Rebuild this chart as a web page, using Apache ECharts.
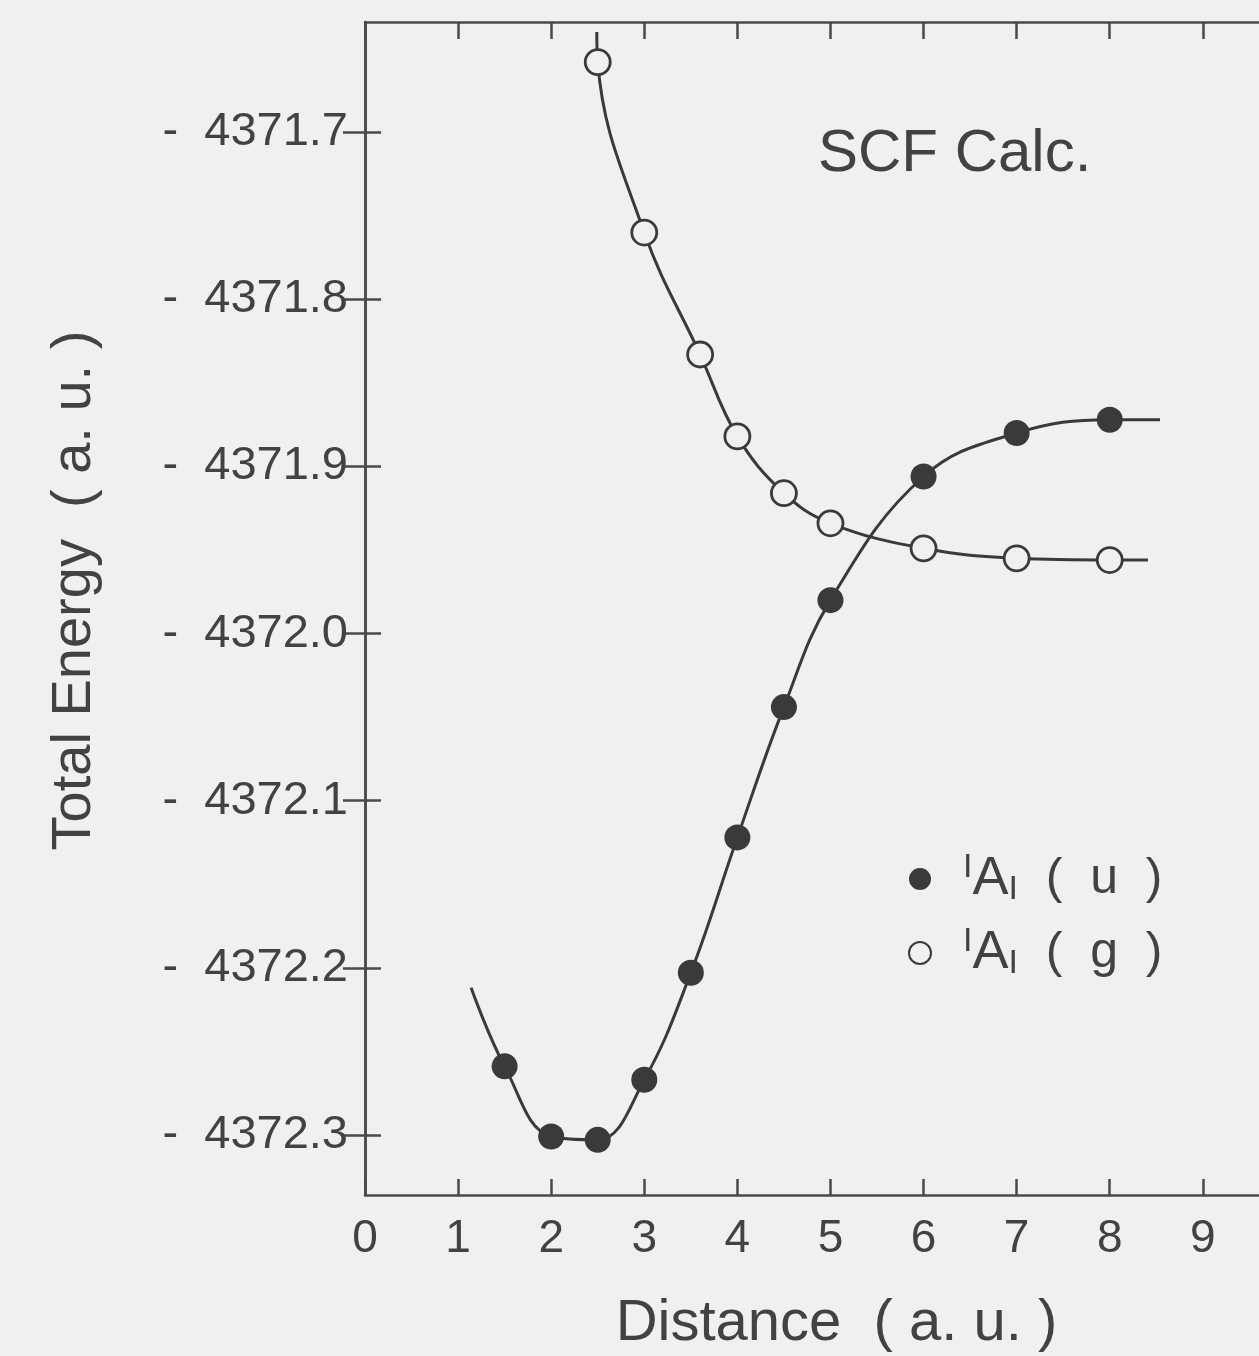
<!DOCTYPE html>
<html>
<head>
<meta charset="utf-8">
<script src="https://cdn.jsdelivr.net/npm/echarts@6/dist/echarts.min.js"></script>
<style>
  html, body { margin: 0; padding: 0; background: #f0f0f0; }
  #chart { width: 1259px; height: 1356px; }
</style>
</head>
<body>
<div id="chart"></div>
<script>
// ---- data ----
const xTickValues = [0, 1, 2, 3, 4, 5, 6, 7, 8, 9];
const yTickValues = [-4371.7, -4371.8, -4371.9, -4372.0, -4372.1, -4372.2, -4372.3];

// 1A1 (u) : filled circles
const distU   = [1.5, 2.0, 2.5, 3.0, 3.5, 4.0, 4.5, 5.0, 6.0, 7.0, 8.0];
const energyU = [-4372.259, -4372.301, -4372.303, -4372.267, -4372.203, -4372.122, -4372.044, -4371.980, -4371.906, -4371.880, -4371.872];
// visible ends of the fitted curve (u)
const curveStartU = [1.14, -4372.212];
const curveEndU   = [8.54, -4371.872];

// 1A1 (g) : open circles
const distG   = [2.5, 3.0, 3.6, 4.0, 4.5, 5.0, 6.0, 7.0, 8.0];
const energyG = [-4371.658, -4371.760, -4371.833, -4371.882, -4371.916, -4371.934, -4371.949, -4371.955, -4371.956];
// visible ends of the fitted curve (g)
const curveStartG = [2.49, -4371.640];
const curveEndG   = [8.41, -4371.956];

const seriesNames = ['u', 'g'];
const annotation = 'SCF Calc.';
const xTitle = 'Distance  ( a. u. )';
const yTitle = 'Total Energy  ( a. u. )';

// ---- styling ----
const INK = '#3a3a3a';
const TXT = '#424242';
const BG = '#f0f0f0';
const FONT = '"Liberation Sans", Arial, Helvetica, sans-serif';

function buildCurve(start, xs, ys, end) {
  const d = [{ value: start, symbol: 'none' }];
  xs.forEach((x, i) => d.push({ value: [x, ys[i]] }));
  d.push({ value: end, symbol: 'none' });
  return d;
}

const axisLineStyle = { color: '#4a4a4a', width: 2.5 };

const chart = echarts.init(document.getElementById('chart'), null, { renderer: 'canvas' });
const option = {
  backgroundColor: BG,
  animation: false,
  grid: { left: 365, top: 22, bottom: 161, width: 903, outerBoundsMode: 'none', containLabel: false },
  xAxis: [
    {
      type: 'value', position: 'bottom', min: 0, max: 9.7,
      name: xTitle, nameLocation: 'middle', nameGap: 100,
      nameTextStyle: { fontSize: 58, color: TXT, fontFamily: FONT, padding: [0, 0, 0, 40] },
      axisLine: { lineStyle: axisLineStyle },
      axisTick: { inside: true, length: 16, customValues: xTickValues, lineStyle: axisLineStyle },
      axisLabel: { customValues: xTickValues, fontSize: 46, margin: 21, color: TXT, fontFamily: FONT },
      splitLine: { show: false }
    },
    {
      type: 'value', position: 'top', min: 0, max: 9.7,
      axisLine: { lineStyle: axisLineStyle },
      axisTick: { inside: true, length: 17, customValues: xTickValues, lineStyle: axisLineStyle },
      axisLabel: { show: false },
      splitLine: { show: false }
    }
  ],
  yAxis: [
    {
      type: 'value', position: 'left', min: -4372.336, max: -4371.634,
      name: yTitle, nameLocation: 'middle', nameGap: 262,
      nameTextStyle: { fontSize: 56, color: TXT, fontFamily: FONT, padding: [0, 0, 0, 36] },
      axisLine: { lineStyle: axisLineStyle },
      axisTick: { inside: true, length: 16, customValues: yTickValues, lineStyle: axisLineStyle },
      axisLabel: {
        customValues: yTickValues, fontSize: 47, margin: 17, color: TXT, fontFamily: FONT,
        formatter: v => '-  ' + Math.abs(v).toFixed(1)
      },
      splitLine: { show: false }
    },
    {
      type: 'value', position: 'right', min: -4372.336, max: -4371.634,
      axisLine: { lineStyle: axisLineStyle },
      axisTick: { inside: true, length: 22, customValues: yTickValues, lineStyle: axisLineStyle },
      axisLabel: { show: false },
      splitLine: { show: false }
    }
  ],
  legend: {
    orient: 'vertical', left: 903, top: 846,
    itemWidth: 24, itemHeight: 22, itemGap: 18,
    icon: 'circle',
    data: seriesNames,
    formatter: name => '{gap|}{sup|I}{big|A}{sub|I}  {a|(  ' + name + '  )}',
    textStyle: {
      color: TXT, fontFamily: FONT, fontSize: 50,
      rich: {
        gap: { width: 26, lineHeight: 56 },
        a:   { fontSize: 50, lineHeight: 56, color: TXT, fontFamily: FONT },
        big: { fontSize: 54, lineHeight: 56, color: TXT, fontFamily: FONT },
        sup: { fontSize: 34, lineHeight: 56, verticalAlign: 'top', color: TXT, fontFamily: FONT },
        sub: { fontSize: 34, lineHeight: 56, verticalAlign: 'bottom', color: TXT, fontFamily: FONT }
      }
    }
  },
  graphic: [
    {
      type: 'text', left: 818, top: 124,
      style: { text: annotation, fontSize: 60, fill: TXT, fontFamily: FONT }
    }
  ],
  series: [
    {
      name: seriesNames[0], type: 'line', smooth: 0.4,
      data: buildCurve(curveStartU, distU, energyU, curveEndU),
      symbol: 'circle', symbolSize: 26, showAllSymbol: true,
      itemStyle: { color: INK },
      lineStyle: { color: INK, width: 3 },
      z: 3
    },
    {
      name: seriesNames[1], type: 'line', smooth: 0.4,
      data: buildCurve(curveStartG, distG, energyG, curveEndG),
      symbol: 'circle', symbolSize: 25, showAllSymbol: true,
      itemStyle: { color: BG, borderColor: INK, borderWidth: 2.8 },
      lineStyle: { color: INK, width: 3 },
      z: 2
    }
  ]
};
chart.setOption(option);
</script>
</body>
</html>
